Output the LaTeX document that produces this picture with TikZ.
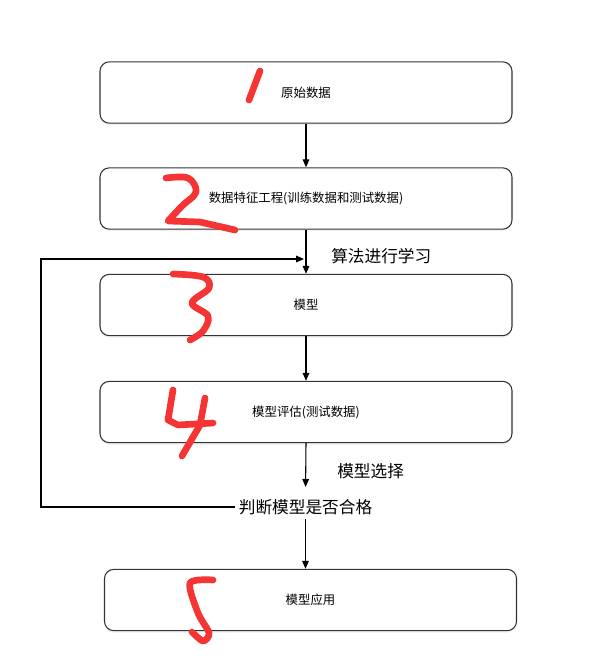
\documentclass[tikz,border=0pt]{standalone}
\usepackage{fontspec}
\setmainfont{Noto Sans CJK SC}
\usetikzlibrary{arrows.meta,shadows}
\definecolor{penred}{RGB}{245,52,52}
\begin{document}
\begin{tikzpicture}[x=0.75pt,y=-0.75pt,>={Triangle[length=6pt,width=5pt]},
    procbox/.style={rectangle,rounded corners=7pt,draw=black!80,line width=0.8pt,fill=white,
      minimum width=309pt,minimum height=46pt,font=\fontsize{9.3}{11}\selectfont,
      drop shadow={opacity=0.12,shadow xshift=0pt,shadow yshift=-1.5pt}},
    flowlabel/.style={font=\fontsize{12.5}{15}\selectfont,inner sep=3pt},
    pen/.style={penred,line width=5pt,line cap=round,line join=round}]
    \useasboundingbox (0,0) rectangle (589,657);

    \node[procbox] (raw)   at (306,92.5)  {原始数据};
    \node[procbox] (feat)  at (306,198.5) {数据特征工程(训练数据和测试数据)};
    \node[procbox] (model) at (306,305)   {模型};
    \node[procbox] (eval)  at (306,412)   {模型评估(测试数据)};
    \node[flowlabel] (judge) at (305.5,507) {判断模型是否合格};
    \node[procbox] (app)   at (310.5,600) {模型应用};

    \node[flowlabel,anchor=west,inner sep=0pt] (learn)  at (331,256.5) {算法进行学习};
    \node[flowlabel,anchor=west,inner sep=0pt] (select) at (337,471.5) {模型选择};

    \coordinate (loopT) at (41,259);
    \coordinate (loopIn) at (304,259);

    \draw[->,line width=0.8pt] (raw.south) -- (feat.north);
    \draw[->,line width=0.8pt] (feat.south) -- (model.north);
    \draw[->,line width=0.8pt] (model.south) -- (eval.north);
    \draw[->,line width=0.8pt,shorten >=6pt] (eval.south) -- (judge.north);
    \draw[->,line width=0.8pt] (judge.south) -- (judge.south |- app.north);
    \draw[->,line width=0.8pt] (judge.west) -| (loopT) -- (loopIn);

    % hand-written step numbers
    \draw[pen] (260,71) -- (249,100);
    \draw[pen] plot[smooth,tension=0.6] coordinates {(166,178) (188,178) (196,192) (182,206) (168,221)}
      -- (200,222) -- (235,230);
    \draw[pen] plot[smooth,tension=0.6] coordinates {(173,274) (203,277) (209,288) (192,303)
      (208,316) (203,331) (190,340)};
    \draw[pen] (173,390) -- (168,420) -- (178,425) -- (213,423);
    \draw[pen] (205,398) -- (200,425) -- (182,456);
    \draw[pen] plot[smooth,tension=0.5] coordinates {(213,580) (190,583) (198,613) (209,633)
      (203,641) (192,632)};
\end{tikzpicture}
\end{document}
